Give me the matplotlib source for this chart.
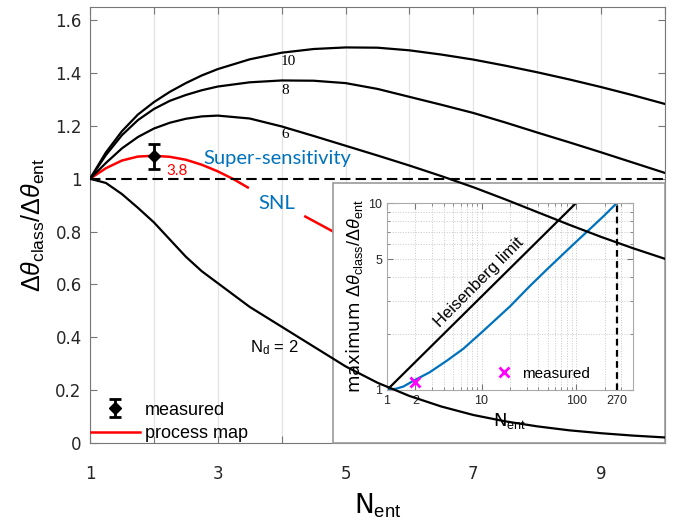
import numpy as np
import matplotlib
matplotlib.use('Agg')
import matplotlib.pyplot as plt
from matplotlib.patches import Rectangle

plt.rcParams['font.family'] = ['DejaVu Sans']
plt.rcParams['mathtext.fontset'] = 'custom'
plt.rcParams['mathtext.rm'] = 'Liberation Sans'
plt.rcParams['mathtext.it'] = 'Liberation Sans:italic'

# main panel: ratio vs N_ent, one curve per N_d
n_ent = [1, 1.25, 1.5, 1.75, 2, 2.25, 2.5, 2.75, 3, 3.5, 4, 4.5, 5, 5.5, 6, 6.5, 7, 7.5, 8, 8.5,
         9, 9.5, 10]
nd10 = [1.0, 1.10, 1.18, 1.243, 1.29, 1.329, 1.362, 1.391, 1.415, 1.452, 1.477, 1.491, 1.497,
        1.496, 1.486, 1.47, 1.451, 1.428, 1.403, 1.376, 1.347, 1.316, 1.283]
nd8 = [1.0, 1.09, 1.165, 1.222, 1.264, 1.295, 1.317, 1.335, 1.349, 1.365, 1.372, 1.371, 1.362,
       1.34, 1.31, 1.280, 1.249, 1.213, 1.175, 1.138, 1.100, 1.061, 1.022]
nd6 = [1.0, 1.06, 1.115, 1.158, 1.19, 1.212, 1.227, 1.236, 1.239, 1.228, 1.198, 1.162, 1.125,
       1.088, 1.05, 1.01, 0.968, 0.922, 0.874, 0.826, 0.78, 0.737, 0.697]
nd2 = [1.0, 0.984, 0.942, 0.89, 0.835, 0.77, 0.705, 0.65, 0.605, 0.515, 0.44, 0.365, 0.29,
       0.228, 0.178, 0.138, 0.106, 0.082, 0.063, 0.048, 0.037, 0.028, 0.021]

# process map (N_d = 3.8), broken where the SNL label sits
red_x = [1, 1.25, 1.5, 1.75, 2, 2.25, 2.5, 2.75, 3, 3.25, 3.47, np.nan, 4.37, 4.6, 4.83, 5.0]
red_y = [1, 1.04, 1.069, 1.084, 1.087, 1.083, 1.072, 1.053, 1.028, 0.998, 0.967, np.nan,
         0.857, 0.827, 0.797, 0.775]

meas_x = [2]
meas_y = [1.085]
meas_err = [0.047]

# inset: maximum ratio vs N_ent (log-log)
hl_x = [1, 100]
hl_y = [1, 10]
max_x = [1, 1.26, 1.5, 1.9, 2.8, 4.3, 6.4, 10, 20, 32.5, 50, 100, 150, 200, 270]
max_y = [1, 1.017, 1.045, 1.12, 1.24, 1.435, 1.66, 2.03, 2.8, 3.6, 4.45, 6.2, 7.5, 8.6, 10]
inset_meas_x = [2]
inset_meas_y = [1.1]
limit_x = [270, 270]
limit_y = [1, 10]

W, H = 681, 529
def fbox(l, t, r, b):
    return [l / W, (H - b) / H, (r - l) / W, (b - t) / H]

blue = '#0072BD'
grey = '#777777'

fig = plt.figure(figsize=(W / 100, H / 100), dpi=100)
main_pos = fbox(90, 7, 665, 443)
ax = fig.add_axes(main_pos, zorder=1)
ax.set_xlim(1, 10)
ax.set_ylim(0, 1.65)
ax.set_xticks(range(1, 11))
ax.set_xticklabels([str(i) if i % 2 else '' for i in range(1, 11)])
ax.set_yticks(np.arange(0, 1.61, 0.2))
ax.set_yticklabels(['0', '0.2', '0.4', '0.6', '0.8', '1', '1.2', '1.4', '1.6'])
ax.tick_params(direction='in', top=True, right=True, length=5, color=grey,
               labelcolor='#262626', labelsize=12)
ax.tick_params(axis='x', pad=16)
ax.tick_params(axis='y', pad=6)
for s in ax.spines.values():
    s.set_color(grey)
ax.grid(axis='x', color='#e3e3e3', lw=0.9)
ax.set_axisbelow(True)

eb = ax.errorbar(meas_x, meas_y, yerr=meas_err, fmt='D', color='black', ms=6.5,
                 capsize=4, elinewidth=2, capthick=2, zorder=4)
pm, = ax.plot(red_x, red_y, color='red', lw=1.8, zorder=3)
ax.text(3.93, 1.075, 'Super-sensitivity', color=blue, fontsize=14.5, family='Lato',
        ha='center', va='center')
ax.text(3.92, 0.905, 'SNL', color=blue, fontsize=14.5, family='Lato', ha='center', va='center')
ax.text(2.36, 1.03, '3.8', color='red', fontsize=11, family='Lato', ha='center', va='center')

ax.add_patch(Rectangle((4.81, 0), 5.19, 0.985, facecolor='white', edgecolor='#999999',
                       lw=1.2, zorder=5, clip_on=False))

ax.legend([eb, pm], ['measured', 'process map'], loc='lower left', bbox_to_anchor=(0, 0),
          frameon=False, borderaxespad=0, borderpad=0.05, handlelength=2.7,
          handletextpad=0.3, labelspacing=0.35,
          prop={'family': 'Liberation Sans', 'size': 13})

ax.set_xlabel(r'N$_{\rm ent}$', fontsize=19, labelpad=6)
ax.set_ylabel(r'$\Delta\theta_{\rm class}/\Delta\theta_{\rm ent}$', fontsize=18, labelpad=6)

# inset
axin = fig.add_axes(fbox(387, 203, 633, 390), zorder=2)
axin.set_xscale('log')
axin.set_yscale('log')
axin.set_xlim(1, 400)
axin.set_ylim(1, 10)
axin.grid(which='both', ls=':', color='#c8c8c8', lw=0.7)
axin.plot(hl_x, hl_y, color='black', lw=1.6)
axin.plot(max_x, max_y, color=blue, lw=1.6)
axin.plot(limit_x, limit_y, color='black', lw=1.6, ls='--', dashes=(3, 2))
axin.plot(inset_meas_x, inset_meas_y, 'x', color='#FF00FF', ms=7, mew=2, ls='none',
          label='measured')
axin.set_xticks([1, 2, 10, 100, 270])
axin.set_xticklabels(['1', '2', '10', '100', '270'])
axin.set_yticks([1, 5, 10])
axin.set_yticklabels(['1', '5', '10'])
axin.yaxis.set_minor_formatter(plt.NullFormatter())
axin.xaxis.set_minor_formatter(plt.NullFormatter())
axin.tick_params(which='both', direction='in', top=True, right=True, color=grey,
                 labelsize=9, labelcolor='#262626')
axin.tick_params(which='major', length=4)
axin.tick_params(which='minor', length=2)
for lab in axin.get_xticklabels() + axin.get_yticklabels():
    lab.set_family('Liberation Sans')
for s in axin.spines.values():
    s.set_color('#aaaaaa')
axin.text(9.3, 3.75, 'Heisenberg limit', rotation=45, fontsize=12, family='Liberation Sans',
          ha='center', va='center', rotation_mode='anchor')
axin.legend(loc='lower left', bbox_to_anchor=(0.40, 0.0), frameon=False, handlelength=1.2,
            handletextpad=0.6, borderaxespad=0.2, prop={'family': 'Liberation Sans', 'size': 11})
axin.set_xlabel(r'N$_{\rm ent}$', fontsize=13, labelpad=3)
axin.set_ylabel(r'maximum $\Delta\theta_{\rm class}/\Delta\theta_{\rm ent}$', fontsize=13,
                labelpad=2)

# overlay with the black curves, drawn above the inset
top = fig.add_axes(main_pos, zorder=3)
top.set_xlim(1, 10)
top.set_ylim(0, 1.65)
top.set_axis_off()
top.patch.set_visible(False)
for yy in (nd10, nd8, nd6, nd2):
    top.plot(n_ent, yy, color='black', lw=1.6)
top.axhline(1, color='black', lw=1.5, ls='--', dashes=(5, 2.5))
top.text(4.11, 1.442, '10', fontsize=11, family='Liberation Serif', ha='center', va='center')
top.text(4.06, 1.334, '8', fontsize=11, family='Liberation Serif', ha='center', va='center')
top.text(4.06, 1.167, '6', fontsize=11, family='Liberation Serif', ha='center', va='center')
top.text(3.89, 0.36, r'N$_{\rm d}$ = 2', fontsize=12, family='Liberation Sans',
         ha='center', va='center')

fig.savefig('out.png', dpi=100)
